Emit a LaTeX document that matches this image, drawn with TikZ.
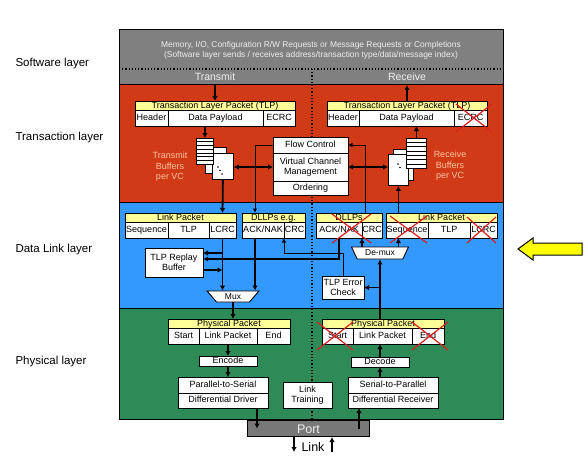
\documentclass[tikz,border=0pt]{standalone}
\usepackage{fontspec}
\setmainfont{Liberation Sans}
\usetikzlibrary{shapes.geometric, arrows.meta, calc}
\definecolor{swgray}{RGB}{128,128,128}
\definecolor{trred}{RGB}{208,58,22}
\definecolor{dlblue}{RGB}{51,153,255}
\definecolor{phgreen}{RGB}{46,139,87}
\definecolor{hdryellow}{RGB}{255,255,153}
\definecolor{xred}{RGB}{220,30,30}
\definecolor{bufor}{RGB}{255,195,160}
\definecolor{lighttxt}{RGB}{238,238,238}
\definecolor{portgray}{RGB}{120,120,120}
\definecolor{arrowyellow}{RGB}{255,255,0}

\begin{document}
\begin{tikzpicture}[
    x=1pt, y=-1pt,
    font=\fontsize{9}{10.5}\selectfont,
    layer/.style={draw, line width=1pt, anchor=north west, minimum width=384pt,
                  inner sep=0pt, outer sep=0pt},
    fld/.style={draw, line width=0.9pt, fill=white, anchor=north west, inner sep=0pt,
                outer sep=0pt, minimum height=16pt, text height=6.3pt, text depth=1.6pt},
    fld2/.style={draw, line width=0.9pt, fill=white, anchor=north west, inner sep=0pt,
                 outer sep=0pt, align=center},
    hdr/.style={fld, fill=hdryellow, minimum height=9pt, text height=6pt, text depth=1pt},
    page/.style={draw, line width=0.8pt, fill=white, anchor=north west, inner sep=0pt},
    mx/.style={draw, line width=0.9pt, fill=white, trapezium, shape border rotate=180,
               trapezium stretches=true, inner sep=0pt, font=\fontsize{8.5}{9}\selectfont},
    arr/.style={line width=1.8pt, -{Latex[length=5pt,width=5.5pt]}},
    tarr/.style={line width=0.9pt, -{Latex[length=4.5pt,width=4.5pt]}},
    darr/.style={line width=1.6pt, {Latex[length=5pt,width=5.5pt]}-{Latex[length=5pt,width=5.5pt]}},
    sep/.style={line width=1.2pt, dotted},
    xmark/.style={line width=1.2pt, xred},
    laylbl/.style={anchor=west, font=\fontsize{11.5}{13}\selectfont},
    buftxt/.style={align=center, text=bufor},
]
\useasboundingbox (0,0) rectangle (588,468);

% layer labels
\node[laylbl] (lsw) at (12,64)  {Software layer};
\node[laylbl] (ltl) at (12,138) {Transaction layer};
\node[laylbl] (ldl) at (12,250) {Data Link layer};
\node[laylbl] (lpl) at (12,362) {Physical layer};

% layer bands
\node[layer, fill=swgray, minimum height=55pt]  (sw) at (119,30)  {};
\node[layer, fill=trred, minimum height=117pt]  (tl) at (119,85)  {};
\node[layer, fill=dlblue, minimum height=106pt] (dl) at (119,202) {};
\node[layer, fill=phgreen, minimum height=111pt] (pl) at (119,308) {};
\draw[sep] (119,69) -- (503,69);
\draw[sep] (312,69) -- (312,419);

\node[align=center, text=lighttxt, font=\fontsize{8.4}{10}\selectfont] (req) at (311,50)
  {Memory, I/O, Configuration R/W Requests or Message Requests or Completions\\
   (Software layer sends / receives address/transaction type/data/message index)};
\node[text=lighttxt, font=\fontsize{10.5}{12}\selectfont] (tx) at (215,77) {Transmit};
\node[text=lighttxt, font=\fontsize{10.5}{12}\selectfont] (rx) at (407,77) {Receive};

% transaction layer
\node[hdr, minimum width=160pt] (ttlp)  at (135,101) {Transaction Layer Packet (TLP)};
\node[fld, minimum width=33pt]  (thdr)  at (135,110) {Header};
\node[fld, minimum width=95pt]  (tpay)  at (168,110) {Data Payload};
\node[fld, minimum width=32pt]  (tecrc) at (263,110) {ECRC};
\node[hdr, minimum width=160pt] (rtlp)  at (327,101) {Transaction Layer Packet (TLP)};
\node[fld, minimum width=32pt]  (rhdr)  at (327,110) {Header};
\node[fld, minimum width=95pt]  (rpay)  at (359,110) {Data Payload};
\node[fld, minimum width=33pt]  (recrc) at (454,110) {ECRC};

\node[fld, minimum width=75pt, minimum height=16pt]  (fc)  at (273,137) {Flow Control};
\node[fld2, minimum width=75pt, minimum height=28pt] (vcm) at (273,153) {Virtual Channel\\Management};
\node[fld, minimum width=75pt, minimum height=14pt]  (ord) at (273,181) {Ordering};

% buffers per VC
\node[page, minimum width=21pt, minimum height=26pt] (tbufB) at (205,147) {};
\node[page, minimum width=21pt, minimum height=26pt] (tbufC) at (212,153) {};
\node[page, minimum width=17pt, minimum height=26pt] (tbufA) at (196,138) {};
\foreach \i in {1,...,6}
  \draw[line width=0.6pt] ($(tbufA.north west)+(0,3.7*\i)$) -- ($(tbufA.north east)+(0,3.7*\i)$);
\foreach \d in {0,1,2}
  \fill ($(tbufC.north west)+(6+2*\d,14+3.5*\d)$) circle (0.9pt);
\node[page, minimum width=20pt, minimum height=31pt] (rbufB) at (393,149) {};
\node[page, minimum width=20pt, minimum height=31pt] (rbufC) at (388,154) {};
\node[page, minimum width=20pt, minimum height=30pt] (rbufA) at (406,138) {};
\foreach \i in {1,...,6}
  \draw[line width=0.6pt] ($(rbufA.north west)+(0,4.3*\i)$) -- ($(rbufA.north east)+(0,4.3*\i)$);
\foreach \d in {0,1}
  \fill ($(rbufC.north west)+(10+2*\d,10+3.5*\d)$) circle (0.9pt);
\node[buftxt] (tbl) at (170,167) {Transmit\\Buffers\\per VC};
\node[buftxt] (rbl) at (450,166) {Receive\\Buffers\\per VC};

% data link layer
\node[hdr, minimum width=111pt] (tlnk)  at (125,213) {Link Packet};
\node[fld, minimum width=43pt]  (tseq)  at (125,222) {Sequence};
\node[fld, minimum width=41pt]  (ttlp2) at (168,222) {TLP};
\node[fld, minimum width=27pt]  (tlcrc) at (209,222) {LCRC};
\node[hdr, minimum width=63pt]  (tdll)  at (242,213) {DLLPs e.g.};
\node[fld, minimum width=42pt]  (tack)  at (242,222) {ACK/NAK};
\node[fld, minimum width=21pt]  (tcrc)  at (284,222) {CRC};
\node[hdr, minimum width=66pt]  (rdll)  at (316,213) {DLLPs};
\node[fld, minimum width=46pt]  (rack)  at (316,222) {ACK/NAK};
\node[fld, minimum width=20pt]  (rcrc)  at (362,222) {CRC};
\node[hdr, minimum width=111pt] (rlnk)  at (386,213) {Link Packet};
\node[fld, minimum width=42pt]  (rseq)  at (386,222) {Sequence};
\node[fld, minimum width=42pt]  (rtlp2) at (428,222) {TLP};
\node[fld, minimum width=27pt]  (rlcrc) at (470,222) {LCRC};

\node[fld2, minimum width=58pt, minimum height=29pt] (rpb) at (145,248) {TLP Replay\\Buffer};
\node[fld2, minimum width=42pt, minimum height=23pt] (tec) at (322,276) {TLP Error\\Check};
\node[mx, trapezium angle=52, minimum width=52pt, minimum height=11pt] (mux) at (233,296.5) {Mux};
\node[mx, trapezium angle=58, minimum width=57pt, minimum height=12pt] (demux) at (380,253) {De-mux};

% physical layer
\node[hdr, minimum width=122pt] (tpp)    at (168,319) {Physical Packet};
\node[fld, minimum width=31pt]  (tstart) at (168,328) {Start};
\node[fld, minimum width=58pt]  (tlpk)   at (199,328) {Link Packet};
\node[fld, minimum width=33pt]  (tend)   at (257,328) {End};
\node[fld, minimum width=58pt, minimum height=10pt] (enc) at (199,356) {Encode};
\node[fld, minimum width=90pt]  (p2s) at (178,377) {Parallel-to-Serial};
\node[fld, minimum width=90pt, minimum height=15pt] (drv) at (178,393) {Differential Driver};
\node[fld2, minimum width=49pt, minimum height=26pt] (ltr) at (283,382) {Link\\Training};
\node[hdr, minimum width=122pt] (rpp)    at (322,319) {Physical Packet};
\node[fld, minimum width=31pt]  (rstart) at (322,328) {Start};
\node[fld, minimum width=59pt]  (rlpk)   at (353,328) {Link Packet};
\node[fld, minimum width=32pt]  (rend)   at (412,328) {End};
\node[fld, minimum width=58pt, minimum height=10pt] (dec) at (351,357) {Decode};
\node[fld, minimum width=90pt]  (s2p) at (348,377) {Serial-to-Parallel};
\node[fld, minimum width=90pt, minimum height=15pt] (rcv) at (348,393) {Differential Receiver};

\node[draw, line width=1pt, fill=portgray, anchor=north west, minimum width=122pt, minimum height=16pt,
      inner sep=0pt, text=lighttxt, font=\fontsize{12.5}{13}\selectfont, text height=9pt, text depth=0pt] (port) at (247,420) {Port};
\node[font=\fontsize{12.5}{13}\selectfont] (link) at (313,447) {Link};
\coordinate (pdn) at (294,452);
\coordinate (pup) at (332,452);

% transmit side
\draw[arr] (tx |- tl.north) -- (tx |- ttlp.north);
\draw[arr] (tbufA.north |- tpay.south) -- (tbufA.north);
\draw[darr] (vcm.west) -- (vcm.west -| tbufC.east);
\draw[arr] (tbufC.south) -- (tlcrc.north |- tlnk.north);
\draw[arr] (tlcrc.south) -- (tlcrc.south |- mux.north);
\draw[tarr] (fc.west) -| ([xshift=-8pt]tack.north |- tdll.north);
\draw[arr] ([xshift=-8pt]tack.south) -- ([xshift=-8pt]tack.south |- mux.north);
\coordinate (rpb1) at ([yshift=9.5pt]rpb.east);
\coordinate (rpb2) at ([yshift=3.5pt]rpb.east);
\coordinate (rpb3) at ([yshift=-7.5pt]rpb.east);
\draw[arr] (tlcrc.south |- rpb1) -- (rpb1);
\draw[arr] (rpb3) -- (tlcrc.south |- rpb3);
\draw[arr] (mux.south) -- (mux.south |- tpp.north);
\draw[arr] (tlpk.south) -- (enc.north);
\draw[arr] (enc.south) -- (enc.south |- p2s.north);
\path ([xshift=34pt]drv.south) coordinate (drvout);
\draw[arr] (drvout) -- (drvout |- port.center);
\draw[arr] (pdn |- port.south) -- (pdn);

% receive side
\draw[arr] (rx |- rtlp.north) -- (rx |- tl.north);
\draw[arr] (rbufA.north) -- (rbufA.north |- rpay.south);
\draw[darr] (vcm.east) -- (vcm.east -| rbufC.west);
\draw[arr] (rbufC.south |- rlnk.north) -- (rbufC.south);
\draw[arr] (rbufC.south |- demux.north) -- (rbufC.south |- rseq.south);
\draw[arr] (rack.south east |- demux.north) -- (rack.south east);
\draw[tarr] ([xshift=3pt]rack.north east |- rdll.north) |- (fc.east);
\draw[line width=1.3pt, -{Latex[length=5pt,width=5pt]}] (rack.south) |- (rpb2);
\draw[tarr] (tec.north) |- ([yshift=-15pt]tack.south east) -- (tack.south east);
\draw[arr] (demux.south |- rpp.north) -- (demux.south);
\draw[arr] (demux.south |- tec.east) -- (tec.east);
\draw[arr] (dec.north) -- (dec.north |- rlpk.south);
\draw[arr] (dec.south |- s2p.north) -- (dec.south);
\path ([xshift=-34pt]rcv.south) coordinate (rcvin);
\draw[arr] (rcvin |- port.center) -- (rcvin);
\draw[arr] (pup) -- (pup |- port.south);

% fields not used on receive
\foreach \xa/\ya/\xb/\yb in {456/104/492/132, 332/214/371/243, 390/216/427/243,
                             467/217/496/243, 317/322/353/350, 412/322/448/350} {
  \draw[xmark] (\xa,\ya) -- (\xb,\yb);
  \draw[xmark] (\xa,\yb) -- (\xb,\ya);
}

% pointer to data link layer
\draw[line width=1pt, fill=arrowyellow] (518,249) -- (533,238) -- (533,243) -- (582,243)
  -- (582,255) -- (533,255) -- (533,260) -- cycle;
\end{tikzpicture}
\end{document}
